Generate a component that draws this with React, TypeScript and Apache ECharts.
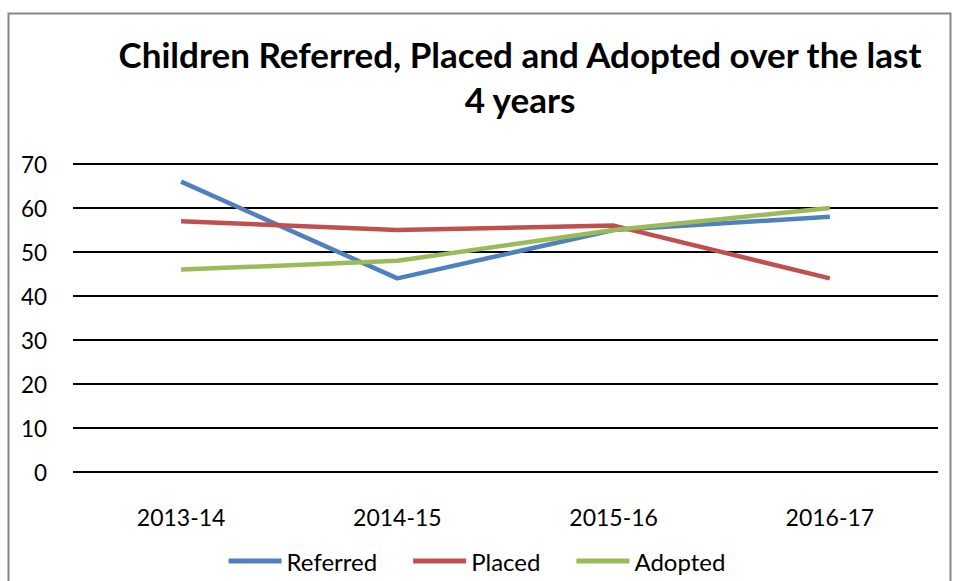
import React, { useEffect, useRef } from "react";
import * as echarts from "echarts";

const categories = ["2013-14", "2014-15", "2015-16", "2016-17"];
const referred = [66, 44, 55, 58];
const placed = [57, 55, 56, 44];
const adopted = [46, 48, 55, 60];
const seriesNames = ["Referred", "Placed", "Adopted"];
const colors = ["#4F81BD", "#C0504D", "#9BBB59"];

const FONT = "Lato, 'Open Sans', sans-serif";

export default function App() {
  const ref = useRef<HTMLDivElement>(null);
  useEffect(() => {
    document.body.style.margin = "0";
    const chart = echarts.init(ref.current!, null, { renderer: "svg" });
    const data = [referred, placed, adopted];
    chart.setOption({
      animation: false,
      backgroundColor: "#ffffff",
      textStyle: { fontFamily: FONT },
      title: {
        text: "Children Referred, Placed and Adopted over the last\n4 years",
        left: 515,
        top: 26,
        textAlign: "center",
        textStyle: {
          fontFamily: FONT,
          fontSize: 35,
          fontWeight: "bold",
          color: "#000",
          lineHeight: 45,
        },
      },
      graphic: [
        {
          type: "rect",
          shape: { x: 8.5, y: 13.5, width: 942, height: 600 },
          style: { fill: "none", stroke: "#878787", lineWidth: 2 },
          silent: true,
        },
      ],
      legend: {
        bottom: 3,
        left: "center",
        icon: "rect",
        itemWidth: 53,
        itemHeight: 5,
        itemGap: 36,
        textStyle: { fontFamily: FONT, fontSize: 24, color: "#000" },
        data: seriesNames,
      },
      grid: { left: 73, right: 16, top: 164, bottom: 109 },
      xAxis: {
        type: "category",
        data: categories,
        boundaryGap: true,
        axisLine: { show: false },
        axisTick: { show: false },
        axisLabel: { fontFamily: FONT, fontSize: 23, color: "#000", margin: 33 },
      },
      yAxis: {
        type: "value",
        min: 0,
        max: 70,
        interval: 10,
        axisLine: { show: false },
        axisTick: { show: false },
        axisLabel: { fontFamily: FONT, fontSize: 22.5, color: "#000", margin: 26 },
        splitLine: { lineStyle: { color: "#000", width: 2 } },
      },
      series: seriesNames.map((name, i) => ({
        name,
        type: "line",
        data: data[i],
        showSymbol: false,
        symbol: "none",
        lineStyle: { color: colors[i], width: 4.5 },
        itemStyle: { color: colors[i] },
      })),
    });
    return () => chart.dispose();
  }, []);
  return (
    <div
      ref={ref}
      style={{ position: "absolute", left: 0, top: 0, width: 954, height: 581 }}
    />
  );
}
